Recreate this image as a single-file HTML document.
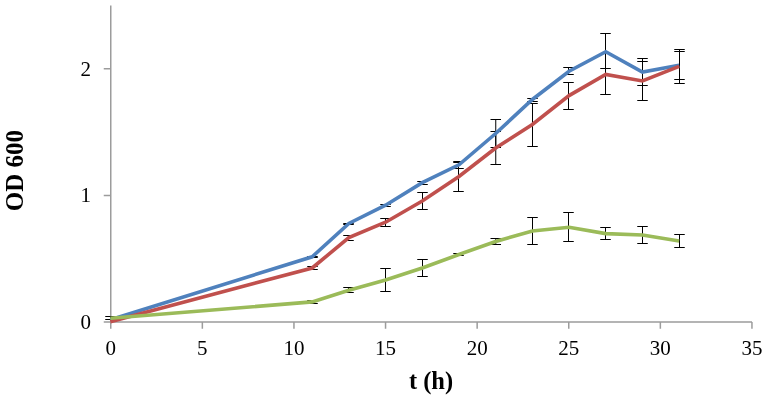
<!DOCTYPE html>
<html><head><meta charset="utf-8"><style>
html,body{margin:0;padding:0;background:#fff;}
body{width:767px;height:399px;overflow:hidden;}
svg{display:block;will-change:transform;}
.t{font-family:"Liberation Serif",serif;font-size:21px;fill:#000;}
.b{font-family:"Liberation Serif",serif;font-size:24.5px;font-weight:bold;fill:#000;}
.b2{font-family:"Liberation Serif",serif;font-size:25px;font-weight:bold;fill:#000;}
</style></head><body>
<svg width="767" height="399" viewBox="0 0 767 399">
<path d="M110.75 5.5V322H752" fill="none" stroke="#9c9c9c" stroke-width="1.5"/>
<path d="M103.75 322.00H110.75M103.75 195.40H110.75M103.75 68.80H110.75M110.75 322V328.75M202.35 322V328.75M293.95 322V328.75M385.55 322V328.75M477.15 322V328.75M568.75 322V328.75M660.35 322V328.75M751.95 322V328.75" fill="none" stroke="#9c9c9c" stroke-width="1.5"/>
<path d="M312.50 256.50V257.50M307.25 256.50H317.75M307.25 257.50H317.75M348.50 223.50V224.50M343.25 223.50H353.75M343.25 224.50H353.75M385.50 204.50V206.50M380.25 204.50H390.75M380.25 206.50H390.75M422.50 181.50V184.50M417.25 181.50H427.75M417.25 184.50H427.75M458.50 161.50V168.50M453.25 161.50H463.75M453.25 168.50H463.75M495.75 119.50V147.50M490.50 119.50H501.00M490.50 147.50H501.00M532.50 98.50V101.50M527.25 98.50H537.75M527.25 101.50H537.75M568.50 67.50V74.50M563.25 67.50H573.75M563.25 74.50H573.75M605.50 33.50V68.50M600.25 33.50H610.75M600.25 68.50H610.75M642.50 58.50V85.50M637.25 58.50H647.75M637.25 85.50H647.75M679.50 51.50V79.50M674.25 51.50H684.75M674.25 79.50H684.75" fill="none" stroke="#000" stroke-width="1"/>
<path d="M312.50 266.50V269.50M307.25 266.50H317.75M307.25 269.50H317.75M348.50 235.50V240.50M343.25 235.50H353.75M343.25 240.50H353.75M385.50 218.50V226.50M380.25 218.50H390.75M380.25 226.50H390.75M422.50 192.50V209.50M417.25 192.50H427.75M417.25 209.50H427.75M458.50 162.50V191.50M453.25 162.50H463.75M453.25 191.50H463.75M495.75 131.50V164.50M490.50 131.50H501.00M490.50 164.50H501.00M532.50 103.50V146.50M527.25 103.50H537.75M527.25 146.50H537.75M568.50 82.50V109.50M563.25 82.50H573.75M563.25 109.50H573.75M605.50 53.50V94.50M600.25 53.50H610.75M600.25 94.50H610.75M642.50 61.50V100.50M637.25 61.50H647.75M637.25 100.50H647.75M679.50 49.50V83.50M674.25 49.50H684.75M674.25 83.50H684.75" fill="none" stroke="#000" stroke-width="1"/>
<path d="M110.50 316.50V319.50M105.25 316.50H115.75M105.25 319.50H115.75M312.50 300.50V303.50M307.25 300.50H317.75M307.25 303.50H317.75M348.50 287.50V292.50M343.25 287.50H353.75M343.25 292.50H353.75M385.50 268.50V291.50M380.25 268.50H390.75M380.25 291.50H390.75M422.50 259.50V276.50M417.25 259.50H427.75M417.25 276.50H427.75M458.50 253.50V255.50M453.25 253.50H463.75M453.25 255.50H463.75M495.75 238.50V244.50M490.50 238.50H501.00M490.50 244.50H501.00M532.50 217.50V244.50M527.25 217.50H537.75M527.25 244.50H537.75M568.50 212.50V241.50M563.25 212.50H573.75M563.25 241.50H573.75M605.50 227.50V239.50M600.25 227.50H610.75M600.25 239.50H610.75M642.50 226.50V243.50M637.25 226.50H647.75M637.25 243.50H647.75M679.50 234.50V247.50M674.25 234.50H684.75M674.25 247.50H684.75" fill="none" stroke="#000" stroke-width="1"/>
<polyline points="110.34,319.70 312.17,256.80 348.87,223.50 385.57,205.20 422.26,182.60 458.96,164.80 495.66,133.50 532.36,99.50 569.05,71.20 605.75,51.70 642.45,72.00 679.14,65.20" fill="none" stroke="#4F81BD" stroke-width="3.60" stroke-linejoin="miter" stroke-linecap="butt"/>
<polyline points="110.34,321.70 312.17,268.00 348.87,237.60 385.57,222.20 422.26,201.00 458.96,176.50 495.66,148.00 532.36,124.50 569.05,95.60 605.75,74.50 642.45,81.00 679.14,66.40" fill="none" stroke="#C0504D" stroke-width="3.60" stroke-linejoin="miter" stroke-linecap="butt"/>
<polyline points="110.34,318.20 312.17,301.90 348.87,290.20 385.57,280.00 422.26,268.00 458.96,254.50 495.66,241.50 532.36,231.00 569.05,227.20 605.75,233.60 642.45,235.00 679.14,241.00" fill="none" stroke="#9BBB59" stroke-width="3.60" stroke-linejoin="miter" stroke-linecap="butt"/>
<text x="91" y="328.93" text-anchor="end" class="t">0</text>
<text x="91" y="202.33" text-anchor="end" class="t">1</text>
<text x="91" y="75.73" text-anchor="end" class="t">2</text>
<text x="110.75" y="355" text-anchor="middle" class="t">0</text>
<text x="202.35" y="355" text-anchor="middle" class="t">5</text>
<text x="293.95" y="355" text-anchor="middle" class="t">10</text>
<text x="385.55" y="355" text-anchor="middle" class="t">15</text>
<text x="477.15" y="355" text-anchor="middle" class="t">20</text>
<text x="568.75" y="355" text-anchor="middle" class="t">25</text>
<text x="660.35" y="355" text-anchor="middle" class="t">30</text>
<text x="751.95" y="355" text-anchor="middle" class="t">35</text>
<text x="431" y="388.5" text-anchor="middle" class="b">t (h)</text>
<text transform="translate(23 170.5) rotate(-90)" text-anchor="middle" class="b2">OD 600</text>
</svg>
</body></html>
